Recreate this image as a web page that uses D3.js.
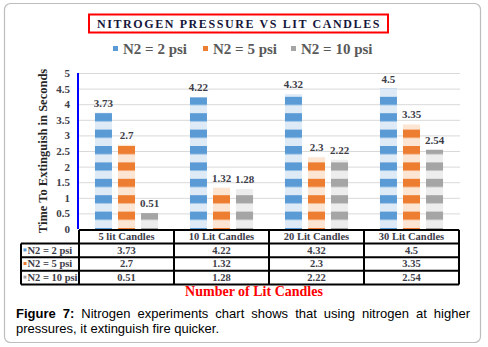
<!DOCTYPE html>
<html>
<head>
<meta charset="utf-8">
<script src="https://cdn.jsdelivr.net/npm/d3@7"></script>
<style>
  body { margin: 0; background: #fff; }
  #wrap { position: relative; width: 488px; height: 347px; }
  svg { position: absolute; left: 0; top: 0; }
  .caption { position: absolute; left: 16px; width: 454px; font-family: "Liberation Sans", Arial, sans-serif;
             font-size: 13px; color: #000; line-height: 15px; white-space: nowrap; }
  .caption.l1 { top: 306px; text-align: justify; text-align-last: justify; white-space: normal; }
  .caption.l2 { top: 321px; }
</style>
</head>
<body>
<div id="wrap"></div>
<script>
//==============================================================================
// DATA
//==============================================================================

const categories = ['5 lit Candles', '10 Lit Candles', '20 Lit Candles', '30 Lit Candles'];
const seriesNames = ['N2 = 2 psi', 'N2 = 5 psi', 'N2 = 10 psi'];
const n2At2psi = [3.73, 4.22, 4.32, 4.5];
const n2At5psi = [2.7, 1.32, 2.3, 3.35];
const n2At10psi = [0.51, 1.28, 2.22, 2.54];
const yTicks = [0, 0.5, 1, 1.5, 2, 2.5, 3, 3.5, 4, 4.5, 5];

const seriesValues = [n2At2psi, n2At5psi, n2At10psi];
const dark = ['#5B9BD5', '#ED7D31', '#A5A5A5'];
const light = ['#DEEBF7', '#FDE5D3', '#EDEDED'];

//==============================================================================
// PARAMETERS
//==============================================================================

const W = 488, H = 347;
const plot = { left: 79, right: 459, top: 73, bottom: 229 };
const serif = '"Liberation Serif", "Times New Roman", serif';
const textGray = '#3d3d48';

const svg = d3.select('#wrap').append('svg')
  .attr('width', W)
  .attr('height', H);

const x = d3.scaleBand().domain(categories).range([plot.left, plot.right]);
const x1 = d3.scaleBand().domain(seriesNames)
  .range([x.bandwidth() * 0.168, x.bandwidth() * 0.832])
  .paddingInner(0.261);
const y = d3.scaleLinear().domain([0, 5]).range([plot.bottom, plot.top]);

//==============================================================================
// DRAW
//==============================================================================

// frame
svg.append('rect')
  .attr('x', 4.5).attr('y', 3.5)
  .attr('width', 476).attr('height', 339)
  .attr('rx', 6)
  .attr('fill', '#fff')
  .attr('stroke', '#bdbdbd')
  .attr('stroke-width', 1.2);

// stripe patterns
const defs = svg.append('defs');
const period = 16.4;
seriesNames.forEach((s, i) => {
  const p = defs.append('pattern')
    .attr('id', 'stripe' + i)
    .attr('patternUnits', 'userSpaceOnUse')
    .attr('x', 0).attr('y', y(0) - 1)
    .attr('width', 10).attr('height', period);
  p.append('rect').attr('width', 10).attr('height', period).attr('fill', light[i]);
  p.append('rect').attr('width', 10).attr('height', period / 2).attr('fill', dark[i]);
});

// title
svg.append('text')
  .attr('x', 239).attr('y', 28)
  .attr('text-anchor', 'middle')
  .style('font-family', serif)
  .style('font-weight', 'bold')
  .style('font-size', '12px')
  .style('letter-spacing', '1.6px')
  .attr('fill', '#15153a')
  .text('NITROGEN PRESSURE VS LIT CANDLES');
svg.append('rect')
  .attr('x', 89).attr('y', 14.5)
  .attr('width', 299).attr('height', 18)
  .attr('fill', 'none')
  .attr('stroke', '#ff0000')
  .attr('stroke-width', 2);

// legend
const legendX = [113, 203, 291];
const legend = svg.append('g').attr('class', 'legend');
seriesNames.forEach((s, i) => {
  legend.append('rect')
    .attr('x', legendX[i]).attr('y', 46)
    .attr('width', 5).attr('height', 5)
    .attr('fill', dark[i]);
  legend.append('text')
    .attr('x', legendX[i] + 10).attr('y', 54)
    .style('font-family', serif)
    .style('font-weight', 'bold')
    .style('font-size', '15px')
    .attr('fill', '#595959')
    .text(s);
});

// gridlines
svg.append('g')
  .attr('class', 'grid')
  .attr('transform', `translate(${plot.left},0)`)
  .call(d3.axisLeft(y).tickValues(yTicks).tickSize(-(plot.right + 1 - plot.left)).tickFormat(''))
  .call(g => g.select('.domain').remove())
  .call(g => g.selectAll('line').attr('stroke', '#d9d9d9').attr('stroke-width', 1));

// y axis labels
svg.append('g')
  .attr('class', 'axis axis--y')
  .attr('transform', `translate(${plot.left - 9},0)`)
  .call(d3.axisLeft(y).tickValues(yTicks).tickSize(0).tickPadding(0).tickFormat(d3.format('')))
  .call(g => g.select('.domain').remove())
  .call(g => g.selectAll('text')
    .style('font-family', serif)
    .style('font-weight', 'bold')
    .style('font-size', '11px')
    .attr('fill', textGray));

// blue axis line
svg.append('line')
  .attr('x1', plot.left - 1).attr('x2', plot.left - 1)
  .attr('y1', y(5)).attr('y2', y(0))
  .attr('stroke', '#0000ff')
  .attr('stroke-width', 2);

// y title
svg.append('text')
  .attr('transform', `translate(47,${(y(0) + y(5)) / 2}) rotate(-90)`)
  .attr('text-anchor', 'middle')
  .style('font-family', serif)
  .style('font-weight', 'bold')
  .style('font-size', '12.5px')
  .attr('fill', '#262626')
  .text('Time To Extinguish in Seconds');

// bars
const groups = svg.append('g').attr('class', 'bars')
  .selectAll('g')
  .data(categories)
  .enter()
  .append('g')
  .attr('transform', d => `translate(${x(d)},0)`);

seriesNames.forEach((s, i) => {
  groups.append('rect')
    .attr('x', x1(s))
    .attr('y', (d, j) => y(seriesValues[i][j]))
    .attr('width', x1.bandwidth())
    .attr('height', (d, j) => y(0) - y(seriesValues[i][j]))
    .attr('fill', `url(#stripe${i})`);

  groups.append('text')
    .attr('x', x1(s) + x1.bandwidth() / 2)
    .attr('y', (d, j) => y(seriesValues[i][j]) - 6)
    .attr('text-anchor', 'middle')
    .style('font-family', serif)
    .style('font-weight', 'bold')
    .style('font-size', '11px')
    .attr('fill', textGray)
    .text((d, j) => seriesValues[i][j]);
});

// data table
const rowH = 13.6;
const tableTop = y(0) + 1;
const rowHeaderLeft = 21;
const table = svg.append('g').attr('class', 'table');
const tableText = sel => sel
  .style('font-family', serif)
  .style('font-weight', 'bold')
  .style('font-size', '10.5px')
  .attr('fill', textGray);

// header row
table.selectAll('.cat')
  .data(categories)
  .enter()
  .append('text')
  .attr('class', 'cat')
  .attr('x', d => x(d) + x.bandwidth() / 2)
  .attr('y', tableTop + rowH - 3.5)
  .attr('text-anchor', 'middle')
  .call(tableText)
  .text(d => d);

seriesNames.forEach((s, i) => {
  const rowY = tableTop + rowH * (i + 1);
  table.append('rect')
    .attr('x', rowHeaderLeft + 2.5).attr('y', rowY + rowH / 2 - 2)
    .attr('width', 3).attr('height', 3)
    .attr('fill', dark[i]);
  table.append('text')
    .attr('x', rowHeaderLeft + 6.5).attr('y', rowY + rowH - 3.5)
    .call(tableText)
    .text(s);
  table.selectAll('.v' + i)
    .data(categories)
    .enter()
    .append('text')
    .attr('x', d => x(d) + x.bandwidth() / 2)
    .attr('y', rowY + rowH - 3.5)
    .attr('text-anchor', 'middle')
    .call(tableText)
    .text((d, j) => seriesValues[i][j]);
});

// table borders
const lineStyle = sel => sel.attr('stroke', '#000').attr('stroke-width', 2).attr('fill', 'none');
const tableBottom = tableTop + rowH * 4;
table.append('line')
  .attr('x1', plot.left).attr('x2', plot.right)
  .attr('y1', tableTop).attr('y2', tableTop)
  .call(lineStyle);
for (let r = 1; r <= 4; r++) {
  table.append('line')
    .attr('x1', rowHeaderLeft).attr('x2', plot.right)
    .attr('y1', tableTop + rowH * r).attr('y2', tableTop + rowH * r)
    .call(lineStyle);
}
table.append('line')
  .attr('x1', rowHeaderLeft).attr('x2', rowHeaderLeft)
  .attr('y1', tableTop + rowH).attr('y2', tableBottom)
  .call(lineStyle);
categories.forEach(c => {
  table.append('line')
    .attr('x1', x(c)).attr('x2', x(c))
    .attr('y1', tableTop).attr('y2', tableBottom)
    .call(lineStyle);
});
table.append('line')
  .attr('x1', plot.right).attr('x2', plot.right)
  .attr('y1', tableTop).attr('y2', tableBottom)
  .call(lineStyle);

// x title
svg.append('text')
  .attr('x', 254).attr('y', tableBottom + 12)
  .attr('text-anchor', 'middle')
  .style('font-family', serif)
  .style('font-weight', 'bold')
  .style('font-size', '14px')
  .attr('fill', '#ff0000')
  .text('Number of Lit Candles');

// caption
d3.select('#wrap').append('div')
  .attr('class', 'caption l1')
  .html('<b>Figure 7:</b> Nitrogen experiments chart shows that using nitrogen at higher');
d3.select('#wrap').append('div')
  .attr('class', 'caption l2')
  .text('pressures, it extinguish fire quicker.');
</script>
</body>
</html>
